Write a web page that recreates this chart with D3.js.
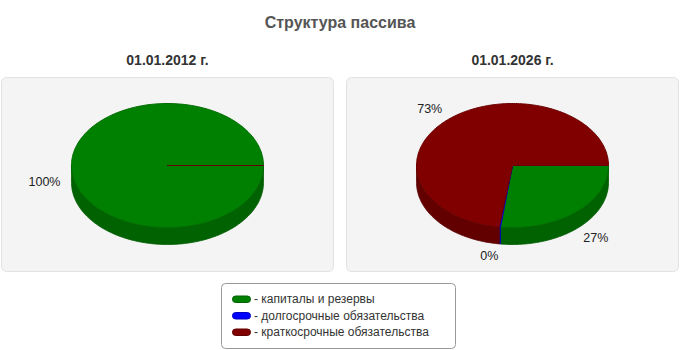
<!DOCTYPE html>
<html>
<head>
<meta charset="utf-8">
<script src="https://cdn.jsdelivr.net/npm/d3@7"></script>
<style>
  body { margin: 0; background: #fff; }
  svg { display: block; font-family: "Liberation Sans", Arial, sans-serif; }
</style>
</head>
<body>
<svg id="chart" width="680" height="350"></svg>
<script>
// chart data
var title = "Структура пассива";
var categories = ["капиталы и резервы", "долгосрочные обязательства", "краткосрочные обязательства"];
var colors = ["#008000", "#0000ff", "#800000"];
var dates = ["01.01.2012 г.", "01.01.2026 г."];
var values2012 = [100, 0, 0];
var values2026 = [27, 0.2, 72.8];

var series = [values2012, values2026];

var svg = d3.select("#chart");

// title
svg.append("text")
  .attr("x", 340).attr("y", 28)
  .attr("text-anchor", "middle")
  .attr("font-size", 16).attr("font-weight", "bold")
  .attr("fill", "#555")
  .text(title);

// panels layout
var panelX = d3.scaleBand().domain(d3.range(dates.length)).range([1, 679]).paddingInner(0.035);
var panelTop = 77, panelH = 195;
var rx = 96, ry = 62, depth = 17;

// d3.pie angles: 0 = 12 o'clock, we start at 3 o'clock clockwise
var pie = d3.pie().sort(null).value(function(d){ return d; })
  .startAngle(Math.PI / 2).endAngle(Math.PI / 2 + 2 * Math.PI);

function pt(cx, cy, t, dy) {
  return [cx + rx * Math.cos(t), cy + ry * Math.sin(t) + (dy || 0)];
}

function arcPoints(cx, cy, t0, t1, dy) {
  var n = Math.max(1, Math.ceil((t1 - t0) / 0.02));
  var pts = [];
  for (var i = 0; i <= n; i++) {
    pts.push(pt(cx, cy, t0 + (t1 - t0) * i / n, dy));
  }
  return pts;
}

var line = d3.line();

series.forEach(function(values, k) {
  var g = svg.append("g");
  var x0 = panelX(k), w = panelX.bandwidth();
  var cx = x0 + w / 2, cy = 165.5;
  var total = d3.sum(values);

  // subtitle
  g.append("text")
    .attr("x", cx).attr("y", 65)
    .attr("text-anchor", "middle")
    .attr("font-size", 14).attr("font-weight", "bold")
    .attr("fill", "#333")
    .text(dates[k]);

  // panel background
  g.append("rect")
    .attr("x", x0 + 0.5).attr("y", panelTop + 0.5)
    .attr("width", w - 1).attr("height", panelH - 1)
    .attr("rx", 5)
    .attr("fill", "#f4f4f4").attr("stroke", "#e2e2e2");

  var arcs = pie(values).map(function(d, i) {
    return {
      t0: d.startAngle - Math.PI / 2,
      t1: d.endAngle - Math.PI / 2,
      value: d.value,
      color: colors[i]
    };
  });

  // side walls (front half only)
  arcs.forEach(function(a) {
    var s = Math.max(a.t0, 0), e = Math.min(a.t1, Math.PI);
    if (s > e) return;
    var top = arcPoints(cx, cy, s, e, 0);
    var bottom = arcPoints(cx, cy, s, e, depth).reverse();
    var side = d3.color(a.color).darker(0.75);
    g.append("path")
      .attr("d", line(top.concat(bottom)) + "Z")
      .attr("fill", side)
      .attr("stroke", side.darker(0.2))
      .attr("stroke-width", 0.8);
  });

  // top faces
  arcs.forEach(function(a) {
    var pts = [[cx, cy]].concat(arcPoints(cx, cy, a.t0, a.t1, 0));
    g.append("path")
      .attr("d", line(pts) + "Z")
      .attr("fill", a.color)
      .attr("stroke", d3.color(a.color).darker(0.5))
      .attr("stroke-width", 1);
  });

  // labels (no label for empty slices)
  arcs.forEach(function(a) {
    if (a.value <= 0) return;
    var m = (a.t0 + a.t1) / 2;
    var c = Math.cos(m), s = Math.sin(m);
    var lx = cx + 107 * c;
    var ly = cy + 75 * s + (s > -0.05 ? 16 : 0);
    g.append("text")
      .attr("x", lx).attr("y", ly)
      .attr("dy", "0.35em")
      .attr("text-anchor", c < 0 ? "end" : "start")
      .attr("font-size", 12.5)
      .attr("fill", "#222")
      .text(Math.round(a.value / total * 100) + "%");
  });
});

// legend
var legend = svg.append("g");
legend.append("rect")
  .attr("x", 221.5).attr("y", 283.5)
  .attr("width", 234).attr("height", 65)
  .attr("rx", 4)
  .attr("fill", "#fff").attr("stroke", "#999");

var legendY = d3.scalePoint().domain(categories).range([299, 332]);

categories.forEach(function(name, i) {
  var y = legendY(name);
  legend.append("rect")
    .attr("x", 232.5).attr("y", y - 3)
    .attr("width", 18).attr("height", 6.5)
    .attr("rx", 3.2)
    .attr("fill", colors[i])
    .attr("stroke", d3.color(colors[i]).darker(0.8));
  legend.append("text")
    .attr("x", 254).attr("y", y)
    .attr("dy", "0.35em")
    .attr("font-size", 12)
    .attr("fill", "#333")
    .text("- " + name);
});
</script>
</body>
</html>
